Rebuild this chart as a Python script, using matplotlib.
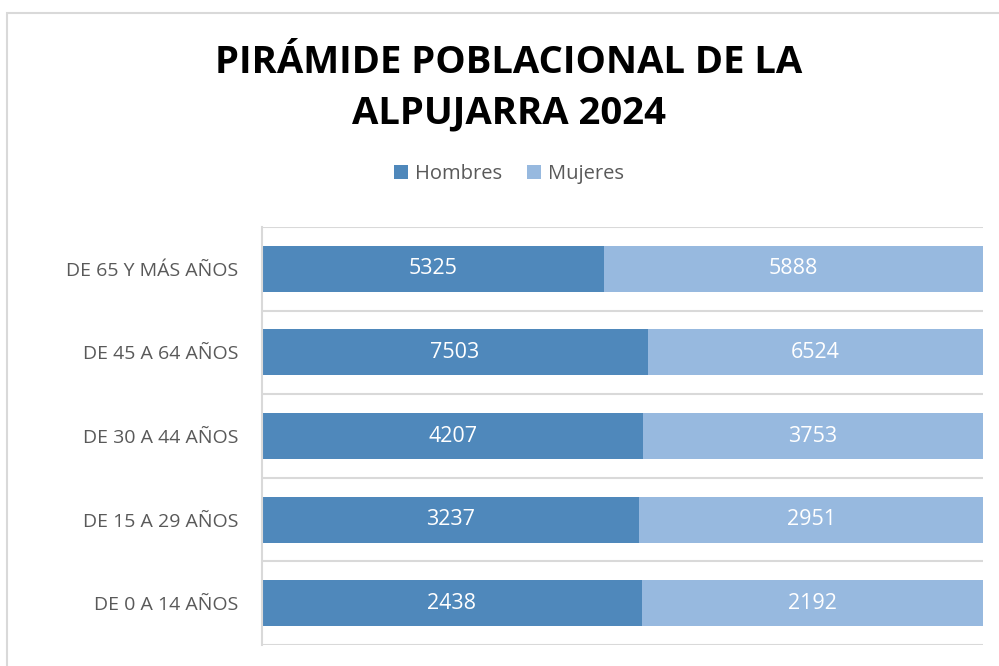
import matplotlib
matplotlib.use("Agg")
import matplotlib.pyplot as plt
from matplotlib.patches import Rectangle
import numpy as np

# --- data ---
age_groups = ["DE 0 A 14 AÑOS", "DE 15 A 29 AÑOS", "DE 30 A 44 AÑOS",
              "DE 45 A 64 AÑOS", "DE 65 Y MÁS AÑOS"]
hombres = [2438, 3237, 4207, 7503, 5325]
mujeres = [2192, 2951, 3753, 6524, 5888]

title = "PIRÁMIDE POBLACIONAL DE LA\nALPUJARRA 2024"
color_h = "#4F88BB"
color_m = "#97B9DF"
grey_txt = "#595959"
grid_col = "#D9D9D9"

plt.rcParams['font.family'] = ['Open Sans', 'DejaVu Sans']

h = np.array(hombres, dtype=float)
m = np.array(mujeres, dtype=float)
tot = h + m
h_share = h / tot
m_share = m / tot
y = np.arange(len(age_groups))

fig = plt.figure(figsize=(9.99, 6.66), dpi=100)
ax = fig.add_axes([0.2623, 0.0315, 0.7217, 0.6275])

bars_h = ax.barh(y, h_share, height=0.55, color=color_h, label="Hombres")
bars_m = ax.barh(y, m_share, left=h_share, height=0.55, color=color_m, label="Mujeres")

# value labels in the middle of each segment
for i in range(len(y)):
    ax.text(h_share[i] / 2, y[i], str(hombres[i]), ha='center', va='center',
            color='white', fontsize=15.5)
    ax.text(h_share[i] + m_share[i] / 2, y[i], str(mujeres[i]), ha='center',
            va='center', color='white', fontsize=15.5)

ax.set_xlim(0, 1)
ax.set_ylim(-0.5, len(y) - 0.5)
ax.set_yticks(y)
ax.set_yticklabels(age_groups, fontsize=14, color=grey_txt)
ax.set_xticks([])
ax.tick_params(axis='y', length=0, pad=17)

# gridlines between categories
ax.set_yticks(np.arange(-0.5, len(y), 1.0), minor=True)
ax.tick_params(axis='y', which='minor', length=0)
ax.grid(True, axis='y', which='minor', color=grid_col, linewidth=1.5)
ax.set_axisbelow(True)

for side in ['top', 'right', 'bottom']:
    ax.spines[side].set_visible(False)
ax.spines['left'].set_color(grid_col)
ax.spines['left'].set_linewidth(1.5)

fig.text(0.5095, 0.868, title, ha='center', va='center', fontsize=27.5,
         fontweight='bold', color='black', linespacing=1.42)

fig.legend(handles=[bars_h, bars_m], labels=["Hombres", "Mujeres"],
           loc='center', bbox_to_anchor=(0.5095, 0.739), ncol=2, frameon=False,
           fontsize=14.5, labelcolor=grey_txt, handlelength=0.7, handleheight=0.7,
           handletextpad=0.35, columnspacing=1.2)

# outer chart frame (cropped on the right and bottom)
fig.patches.append(Rectangle((7 / 999, -0.05), 1.1, 0.05 + 1 - 13 / 666,
                             transform=fig.transFigure, fill=False,
                             edgecolor=grid_col, linewidth=1.5))

fig.savefig("out.png", dpi=100)
